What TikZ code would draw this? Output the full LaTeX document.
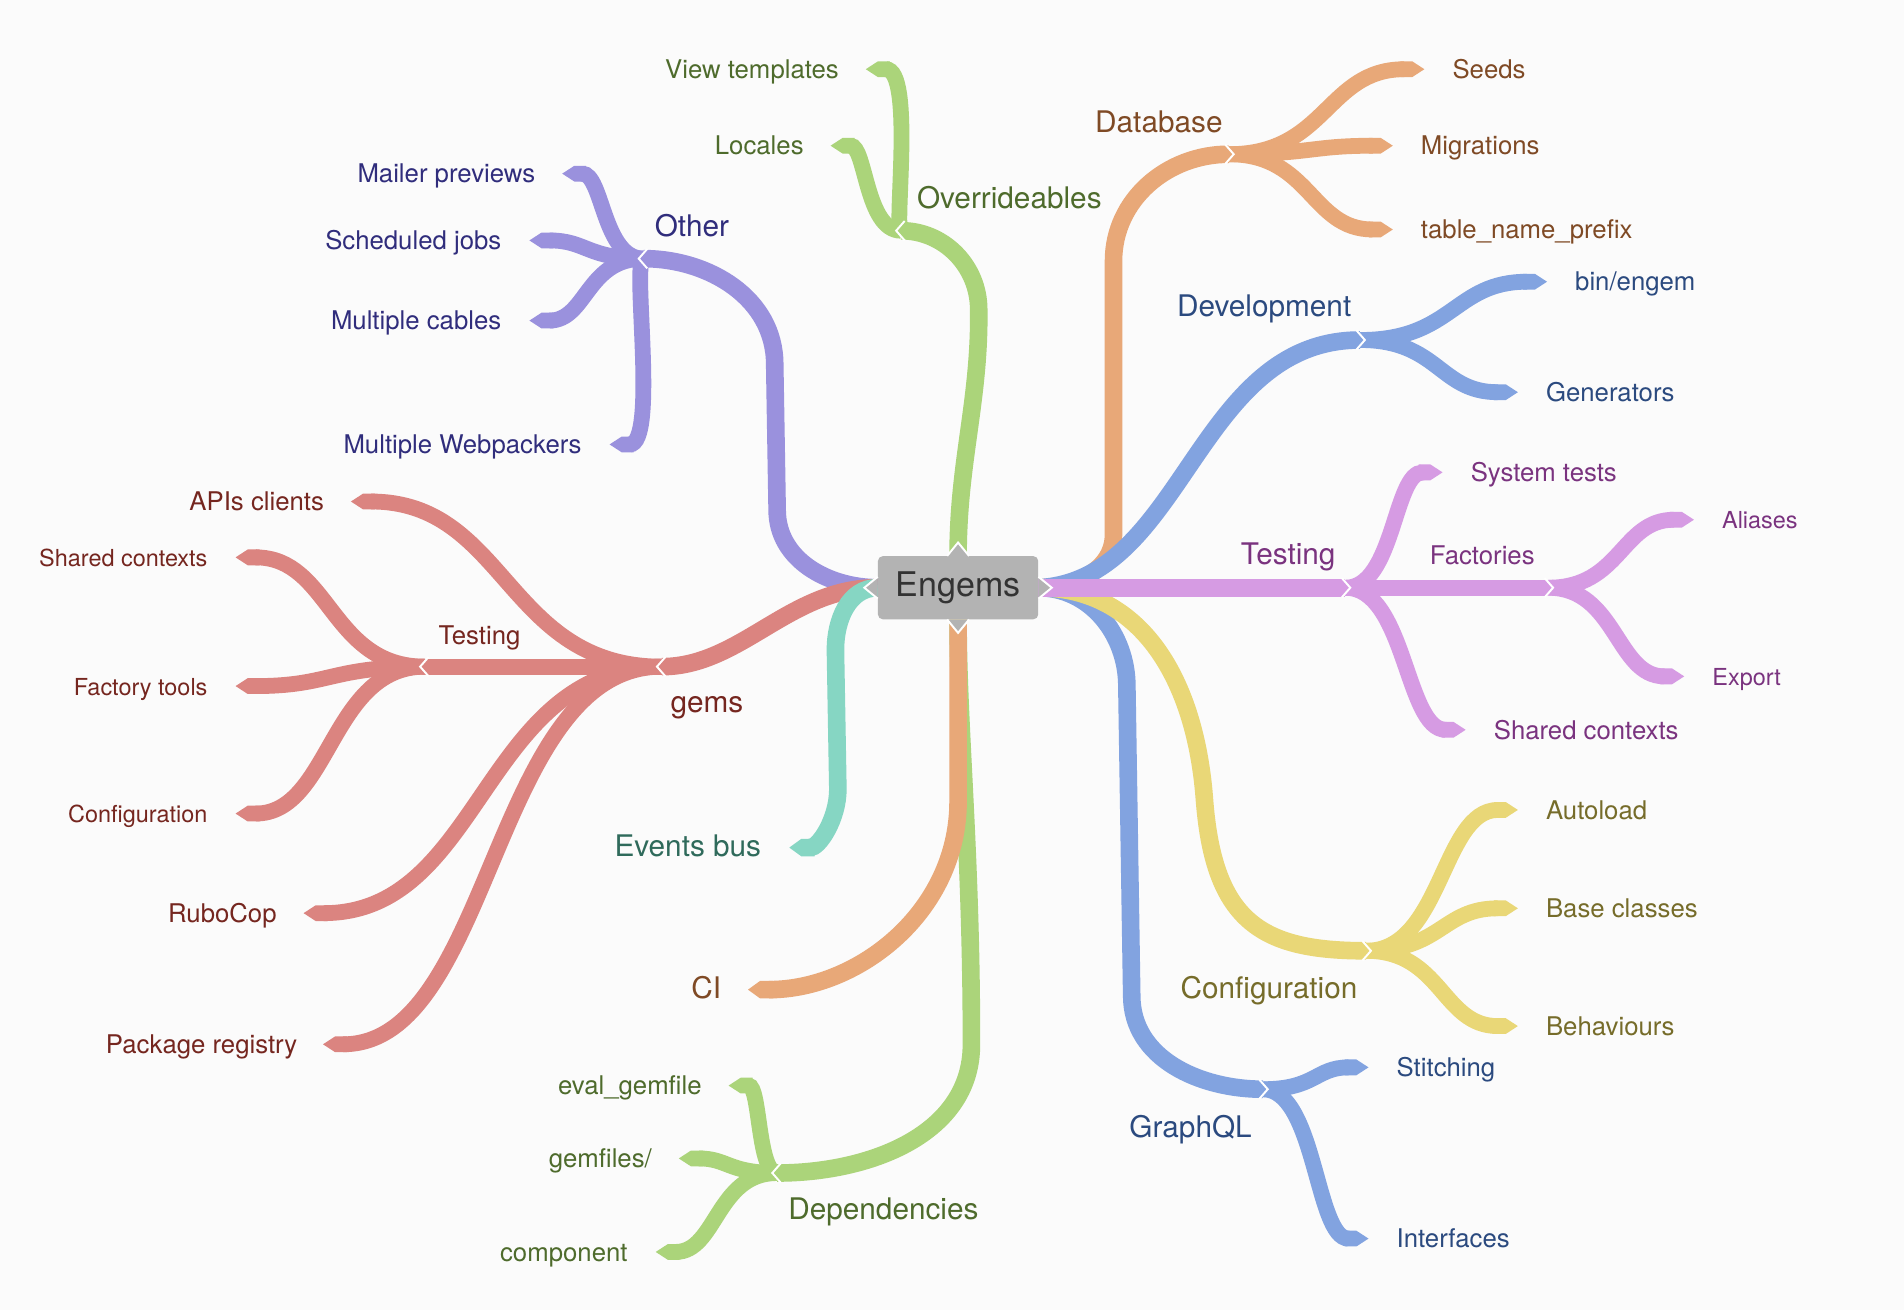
\documentclass[tikz,border=0pt]{standalone}
\usepackage{fontspec}
\setmainfont{TeX Gyre Heros}
\usepackage{tikz}
\usetikzlibrary{arrows.meta, backgrounds, calc, positioning}
\pgfdeclarelayer{foreground}
\pgfsetlayers{background, main, foreground}

\definecolor{bgGray}{HTML}{FBFBFB}
\definecolor{boxGray}{HTML}{B3B3B3}
\definecolor{rootText}{HTML}{333333}
\definecolor{dbOrange}{HTML}{E8A878}
\definecolor{dbText}{HTML}{7F4A25}
\definecolor{ovGreen}{HTML}{ABD47A}
\definecolor{ovText}{HTML}{4E6B2C}
\definecolor{otherPurple}{HTML}{9A91DD}
\definecolor{otherText}{HTML}{302D7C}
\definecolor{gemsRed}{HTML}{DB8480}
\definecolor{gemsText}{HTML}{75261F}
\definecolor{evTeal}{HTML}{86D6C3}
\definecolor{evText}{HTML}{2F6A5B}
\definecolor{devBlue}{HTML}{82A3E0}
\definecolor{devText}{HTML}{2B4A7F}
\definecolor{testViolet}{HTML}{D69BE3}
\definecolor{testText}{HTML}{7A337F}
\definecolor{confYellow}{HTML}{E9D777}
\definecolor{confText}{HTML}{766C2A}

\tikzset{
    rootbox/.style={fill=boxGray, rounded corners=4pt, minimum width=132pt, minimum height=52pt, text=rootText, font=\fontsize{28}{32}\selectfont},
    boxtip/.style={fill=boxGray, draw=white, line width=1.6pt},
    branch/.style={draw=#1, line width=14.5pt},
    limb/.style={branch=#1, -{Triangle Cap[length=10pt]}},
    stem/.style={draw=#1, line width=13pt},
    twig/.style={stem=#1, -{Triangle Cap[length=10pt]}},
    notch/.style={draw=white, line width=1.6pt},
    mm/.style={to path={.. controls ($(\tikztostart)!.5!(\tikztotarget|-\tikztostart)$) and ($(\tikztotarget)!.5!(\tikztostart|-\tikztotarget)$) .. (\tikztotarget)}},
    toplabel/.style={inner sep=0pt, font=\fontsize{24.5}{28}\selectfont},
    midlabel/.style={inner sep=0pt, font=\fontsize{21.2}{25}\selectfont},
    smalllabel/.style={inner sep=0pt, font=\fontsize{19.3}{23}\selectfont},
    tipR/.style={anchor=mid west, yshift=-5pt},
    tipL/.style={anchor=mid east, yshift=-5pt},
}

\begin{document}
\begin{tikzpicture}[x=1pt, y=-1pt]
    % canvas
    \begin{pgfonlayer}{background}
        \fill[bgGray] (0,0) rectangle (1568,1079);
    \end{pgfonlayer}
    \useasboundingbox (0,0) rectangle (1568,1079);

    % Engems root
    \begin{pgfonlayer}{foreground}
        \node (Engems) at (789,484) [rootbox]{Engems};
        \draw[boxtip] ($(Engems.east)+(0,-9)$) -- ($(Engems.east)+(11,0)$) -- ($(Engems.east)+(0,9)$);
        \draw[boxtip] ($(Engems.west)+(0,-9)$) -- ($(Engems.west)+(-11,0)$) -- ($(Engems.west)+(0,9)$);
        \draw[boxtip] ($(Engems.north)+(-9,0)$) -- ($(Engems.north)+(0,-11)$) -- ($(Engems.north)+(9,0)$);
        \draw[boxtip] ($(Engems.south)+(-9,0)$) -- ($(Engems.south)+(0,11)$) -- ($(Engems.south)+(9,0)$);
    \end{pgfonlayer}

    % junctions
    \coordinate (Database-J) at (1012,127);
    \coordinate (Development-J) at (1120,280);
    \coordinate (Testing-J) at (1108,484);
    \coordinate (Factories-J) at (1275,484);
    \coordinate (Configuration-J) at (1125,783);
    \coordinate (GraphQL-J) at (1040,897);
    \coordinate (Other-J) at (530,213);
    \coordinate (gems-J) at (545,549);
    \coordinate (gemsTesting-J) at (350,549);
    \coordinate (Overrideables-J) at (742,190);
    \coordinate (Dependencies-J) at (640,966);

    % branch ends
    \coordinate (Seeds-T) at (1173,57);
    \coordinate (Migrations-T) at (1147,120);
    \coordinate (TableNamePrefix-T) at (1147,189);
    \coordinate (BinEngem-T) at (1274,232);
    \coordinate (Generators-T) at (1250,323);
    \coordinate (SystemTests-T) at (1188,389);
    \coordinate (TestingShared-T) at (1207,601);
    \coordinate (Aliases-T) at (1395,428);
    \coordinate (Export-T) at (1387,557);
    \coordinate (Autoload-T) at (1250,667);
    \coordinate (BaseClasses-T) at (1250,748);
    \coordinate (Behaviours-T) at (1250,845);
    \coordinate (Stitching-T) at (1127,879);
    \coordinate (Interfaces-T) at (1127,1020);
    \coordinate (ViewTemplates-T) at (713,57);
    \coordinate (Locales-T) at (684,120);
    \coordinate (MailerPreviews-T) at (463,143);
    \coordinate (ScheduledJobs-T) at (436,198);
    \coordinate (MultipleCables-T) at (436,264);
    \coordinate (MultipleWebpackers-T) at (502,366);
    \coordinate (APIsClients-T) at (289,413);
    \coordinate (gemsShared-T) at (194,459);
    \coordinate (FactoryTools-T) at (194,565);
    \coordinate (gemsConfiguration-T) at (194,670);
    \coordinate (RuboCop-T) at (250,752);
    \coordinate (PackageRegistry-T) at (266,860);
    \coordinate (EventsBus-T) at (650,698);
    \coordinate (CI-T) at (616,815);
    \coordinate (EvalGemfile-T) at (600,894);
    \coordinate (Gemfiles-T) at (559,954);
    \coordinate (Component-T) at (540,1031);

    %%%%%%%%%%%%%%%%%%%
    % right side
    \draw[branch=dbOrange] (Engems.east) to[out=0,in=-90] (917,440) -- (917,215) to[out=90,in=180] (Database-J);
    \draw[branch=devBlue] (Engems.east) .. controls (975,478) and (985,280) .. (Development-J);
    \draw[branch=devBlue] (Engems.east) to[out=0,in=90] (928,565) -- (932,820) to[out=-90,in=180] (GraphQL-J);
    \draw[branch=confYellow] (Engems.east) .. controls (940,484) and (985,560) .. (992,660) .. controls (1000,760) and (1040,783) .. (Configuration-J);
    \draw[branch=testViolet] (Engems.east) -- (Testing-J);

    % Database
    \draw[twig=dbOrange] (Database-J) to[mm] (Seeds-T);
    \draw[twig=dbOrange] (Database-J) to[mm] (Migrations-T);
    \draw[twig=dbOrange] (Database-J) to[mm] (TableNamePrefix-T);

    % Development
    \draw[twig=devBlue] (Development-J) to[mm] (BinEngem-T);
    \draw[twig=devBlue] (Development-J) to[mm] (Generators-T);

    % Testing
    \draw[twig=testViolet] (Testing-J) to[mm] (SystemTests-T);
    \draw[twig=testViolet] (Testing-J) to[mm] (TestingShared-T);
    \draw[stem=testViolet] (Testing-J) -- (Factories-J);
    \draw[twig=testViolet] (Factories-J) to[mm] (Aliases-T);
    \draw[twig=testViolet] (Factories-J) to[mm] (Export-T);

    % Configuration
    \draw[twig=confYellow] (Configuration-J) to[mm] (Autoload-T);
    \draw[twig=confYellow] (Configuration-J) to[mm] (BaseClasses-T);
    \draw[twig=confYellow] (Configuration-J) to[mm] (Behaviours-T);

    % GraphQL
    \draw[twig=devBlue] (GraphQL-J) to[mm] (Stitching-T);
    \draw[twig=devBlue] (GraphQL-J) to[mm] (Interfaces-T);

    %%%%%%%%%%%%%%%%%%%
    % left side
    \draw[branch=otherPurple] (Engems.west) to[out=180,in=-90] (640,420) -- (638,300) to[out=90,in=0] (Other-J);
    \draw[branch=gemsRed] (Engems.west) .. controls (650,484) and (610,549) .. (gems-J);
    \draw[limb=evTeal] (Engems.west) to[out=180,in=90] (688,535) -- (690,650) to[out=-90,in=0] (EventsBus-T);

    % Other
    \draw[twig=otherPurple] (Other-J) to[mm] (MailerPreviews-T);
    \draw[twig=otherPurple] (Other-J) to[mm] (ScheduledJobs-T);
    \draw[twig=otherPurple] (Other-J) to[mm] (MultipleCables-T);
    \draw[twig=otherPurple] (Other-J) .. controls +(-10,0) and +(40,0) .. (MultipleWebpackers-T);

    % gems
    \draw[twig=gemsRed] (gems-J) to[mm] (APIsClients-T);
    \draw[twig=gemsRed] (gems-J) to[mm] (RuboCop-T);
    \draw[twig=gemsRed] (gems-J) to[mm] (PackageRegistry-T);
    \draw[stem=gemsRed] (gems-J) -- (gemsTesting-J);
    \draw[twig=gemsRed] (gemsTesting-J) to[mm] (gemsShared-T);
    \draw[twig=gemsRed] (gemsTesting-J) to[mm] (FactoryTools-T);
    \draw[twig=gemsRed] (gemsTesting-J) to[mm] (gemsConfiguration-T);

    %%%%%%%%%%%%%%%%%%%
    % top and bottom
    \draw[branch=ovGreen] (Engems.north) .. controls (789,380) and (807,330) .. (806,255) to[out=90,in=0] (Overrideables-J);
    \draw[twig=ovGreen] (Overrideables-J) .. controls +(-6,0) and +(40,0) .. (ViewTemplates-T);
    \draw[twig=ovGreen] (Overrideables-J) to[mm] (Locales-T);

    \draw[branch=ovGreen] (Engems.south) .. controls (789,600) and (800,700) .. (800,860) to[out=-90,in=0] (Dependencies-J);
    \draw[twig=ovGreen] (Dependencies-J) .. controls +(-16,0) and +(26,0) .. (EvalGemfile-T);
    \draw[twig=ovGreen] (Dependencies-J) to[mm] (Gemfiles-T);
    \draw[twig=ovGreen] (Dependencies-J) to[mm] (Component-T);

    \draw[limb=dbOrange] (Engems.south) -- (789,660) to[out=-90,in=0] (CI-T);

    % notches at the junctions
    \draw[notch] ($(Database-J)+(-3,-8)$) -- ($(Database-J)+(4,0)$) -- ($(Database-J)+(-3,8)$);
    \draw[notch] ($(Development-J)+(-3,-8)$) -- ($(Development-J)+(4,0)$) -- ($(Development-J)+(-3,8)$);
    \draw[notch] ($(Testing-J)+(-3,-8)$) -- ($(Testing-J)+(4,0)$) -- ($(Testing-J)+(-3,8)$);
    \draw[notch] ($(Factories-J)+(-3,-8)$) -- ($(Factories-J)+(4,0)$) -- ($(Factories-J)+(-3,8)$);
    \draw[notch] ($(Configuration-J)+(-3,-8)$) -- ($(Configuration-J)+(4,0)$) -- ($(Configuration-J)+(-3,8)$);
    \draw[notch] ($(GraphQL-J)+(-3,-8)$) -- ($(GraphQL-J)+(4,0)$) -- ($(GraphQL-J)+(-3,8)$);
    \draw[notch] ($(Other-J)+(3,-8)$) -- ($(Other-J)+(-4,0)$) -- ($(Other-J)+(3,8)$);
    \draw[notch] ($(gems-J)+(3,-8)$) -- ($(gems-J)+(-4,0)$) -- ($(gems-J)+(3,8)$);
    \draw[notch] ($(gemsTesting-J)+(3,-8)$) -- ($(gemsTesting-J)+(-4,0)$) -- ($(gemsTesting-J)+(3,8)$);
    \draw[notch] ($(Overrideables-J)+(3,-8)$) -- ($(Overrideables-J)+(-4,0)$) -- ($(Overrideables-J)+(3,8)$);
    \draw[notch] ($(Dependencies-J)+(3,-8)$) -- ($(Dependencies-J)+(-4,0)$) -- ($(Dependencies-J)+(3,8)$);

    %%%%%%%%%%%%%%%%%%%
    % labels
    \node (Database) at ($(Database-J)+(-5,-18)$) [toplabel, text=dbText, anchor=base east]{Database};
    \node (Development) at ($(Development-J)+(-7,-19)$) [toplabel, text=devText, anchor=base east]{Development};
    \node (Testing) at ($(Testing-J)+(-8,-19)$) [toplabel, text=testText, anchor=base east]{Testing};
    \node (Configuration) at ($(Configuration-J)+(-7,39)$) [toplabel, text=confText, anchor=base east]{Configuration};
    \node (GraphQL) at ($(GraphQL-J)+(-9,40)$) [toplabel, text=devText, anchor=base east]{GraphQL};
    \node (Other) at ($(Other-J)+(9,-18)$) [toplabel, text=otherText, anchor=base west]{Other};
    \node (gems) at ($(gems-J)+(7,38)$) [toplabel, text=gemsText, anchor=base west]{gems};
    \node (Overrideables) at ($(Overrideables-J)+(13,-18)$) [toplabel, text=ovText, anchor=base west]{Overrideables};
    \node (Dependencies) at ($(Dependencies-J)+(9,38)$) [toplabel, text=ovText, anchor=base west]{Dependencies};
    \node (EventsBus) at ($(EventsBus-T)+(-23,0)$) [toplabel, text=evText, tipL]{Events bus};
    \node (CI) at ($(CI-T)+(-22,0)$) [toplabel, text=dbText, tipL]{CI};

    \node (Factories) at ($(Factories-J)+(-11,-19)$) [midlabel, text=testText, anchor=base east]{Factories};
    \node (gemsTesting) at ($(gemsTesting-J)+(11,-18)$) [midlabel, text=gemsText, anchor=base west]{Testing};

    \node (Seeds) at ($(Seeds-T)+(23,0)$) [midlabel, text=dbText, tipR]{Seeds};
    \node (Migrations) at ($(Migrations-T)+(23,0)$) [midlabel, text=dbText, tipR]{Migrations};
    \node (TableNamePrefix) at ($(TableNamePrefix-T)+(23,0)$) [midlabel, text=dbText, tipR]{table\_name\_prefix};
    \node (BinEngem) at ($(BinEngem-T)+(23,0)$) [midlabel, text=devText, tipR]{bin/engem};
    \node (Generators) at ($(Generators-T)+(23,0)$) [midlabel, text=devText, tipR]{Generators};
    \node (SystemTests) at ($(SystemTests-T)+(23,0)$) [midlabel, text=testText, tipR]{System tests};
    \node (TestingShared) at ($(TestingShared-T)+(23,0)$) [midlabel, text=testText, tipR]{Shared contexts};
    \node (Aliases) at ($(Aliases-T)+(23,0)$) [smalllabel, text=testText, tipR]{Aliases};
    \node (Export) at ($(Export-T)+(23,0)$) [smalllabel, text=testText, tipR]{Export};
    \node (Autoload) at ($(Autoload-T)+(23,0)$) [midlabel, text=confText, tipR]{Autoload};
    \node (BaseClasses) at ($(BaseClasses-T)+(23,0)$) [midlabel, text=confText, tipR]{Base classes};
    \node (Behaviours) at ($(Behaviours-T)+(23,0)$) [midlabel, text=confText, tipR]{Behaviours};
    \node (Stitching) at ($(Stitching-T)+(23,0)$) [midlabel, text=devText, tipR]{Stitching};
    \node (Interfaces) at ($(Interfaces-T)+(23,0)$) [midlabel, text=devText, tipR]{Interfaces};

    \node (ViewTemplates) at ($(ViewTemplates-T)+(-22,0)$) [midlabel, text=ovText, tipL]{View templates};
    \node (Locales) at ($(Locales-T)+(-22,0)$) [midlabel, text=ovText, tipL]{Locales};
    \node (MailerPreviews) at ($(MailerPreviews-T)+(-22,0)$) [midlabel, text=otherText, tipL]{Mailer previews};
    \node (ScheduledJobs) at ($(ScheduledJobs-T)+(-23,0)$) [midlabel, text=otherText, tipL]{Scheduled jobs};
    \node (MultipleCables) at ($(MultipleCables-T)+(-23,0)$) [midlabel, text=otherText, tipL]{Multiple cables};
    \node (MultipleWebpackers) at ($(MultipleWebpackers-T)+(-23,0)$) [midlabel, text=otherText, tipL]{Multiple Webpackers};
    \node (APIsClients) at ($(APIsClients-T)+(-22,0)$) [midlabel, text=gemsText, tipL]{APIs clients};
    \node (gemsShared) at ($(gemsShared-T)+(-23,0)$) [smalllabel, text=gemsText, tipL]{Shared contexts};
    \node (FactoryTools) at ($(FactoryTools-T)+(-23,0)$) [smalllabel, text=gemsText, tipL]{Factory tools};
    \node (gemsConfiguration) at ($(gemsConfiguration-T)+(-23,0)$) [smalllabel, text=gemsText, tipL]{Configuration};
    \node (RuboCop) at ($(RuboCop-T)+(-22,0)$) [midlabel, text=gemsText, tipL]{RuboCop};
    \node (PackageRegistry) at ($(PackageRegistry-T)+(-21,0)$) [midlabel, text=gemsText, tipL]{Package registry};
    \node (EvalGemfile) at ($(EvalGemfile-T)+(-22,0)$) [midlabel, text=ovText, tipL]{eval\_gemfile};
    \node (Gemfiles) at ($(Gemfiles-T)+(-22,0)$) [midlabel, text=ovText, tipL]{gemfiles/};
    \node (Component) at ($(Component-T)+(-23,0)$) [midlabel, text=ovText, tipL]{component};
\end{tikzpicture}
\end{document}
